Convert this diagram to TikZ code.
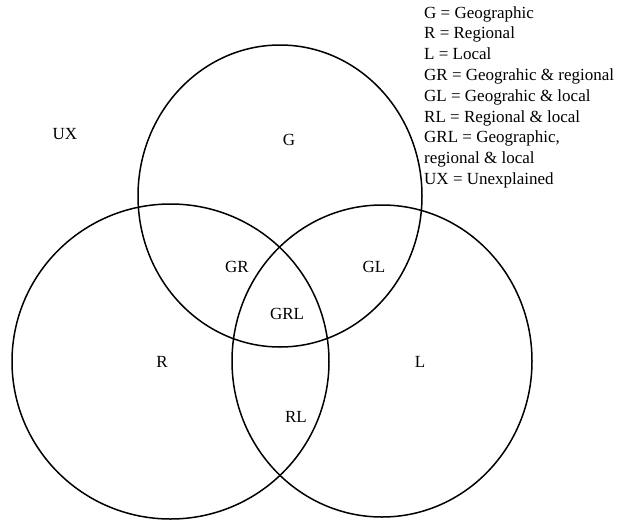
\documentclass[tikz,border=0pt]{standalone}
\usepackage{fontspec}
\setmainfont{Liberation Serif}
\usetikzlibrary{shapes.geometric}

\begin{document}
\begin{tikzpicture}[x=1pt, y=-1pt, font=\fontsize{17}{20.8}\selectfont]
  \tikzset{
    set_ellipse/.style args={#1/#2}{
      ellipse, draw=black, line width=1.5pt, minimum width=#1pt, minimum height=#2pt, inner sep=0pt
    },
    region_label/.style={inner sep=0pt, anchor=center},
    legend_text/.style={align=left, anchor=north west, inner sep=0pt}
  }

\useasboundingbox (0,0) rectangle (619,520);

  % the three sets
  \node[set_ellipse=284/302] (G-set) at (280,196) {};
  \node[set_ellipse=317/315] (R-set) at (170.5,361.5) {};
  \node[set_ellipse=300/312] (L-set) at (382,361) {};

  % region names
  \node[region_label] (UX) at (65,134) {UX};
  \node[region_label] (G) at (289,140) {G};
  \node[region_label] (GR) at (237,267) {GR};
  \node[region_label] (GL) at (374,267) {GL};
  \node[region_label] (GRL) at (287,314) {GRL};
  \node[region_label] (R) at (162,362) {R};
  \node[region_label] (L) at (420,362) {L};
  \node[region_label] (RL) at (296,417) {RL};

  % key
  \node[legend_text] (key) at (424,6) {G = Geographic\\
    R = Regional\\
    L = Local\\
    GR = Geograhic \& regional\\
    GL = Geograhic \& local\\
    RL = Regional \& local\\
    GRL = Geographic,\\
    regional \& local\\
    UX = Unexplained};

\end{tikzpicture}
\end{document}
